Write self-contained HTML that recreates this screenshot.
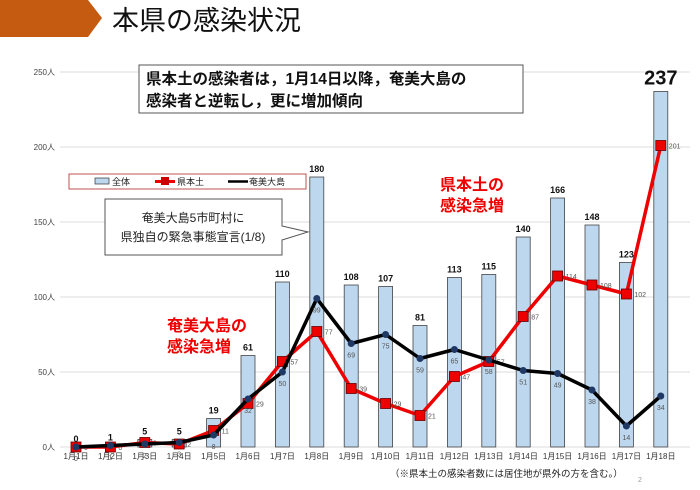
<!DOCTYPE html>
<html><head><meta charset="utf-8">
<style>
body{margin:0;background:#fff;}
svg text{font-family:"Liberation Sans","Noto Sans CJK JP",sans-serif;}
</style></head>
<body>
<svg id="chart" width="700" height="485" viewBox="0 0 700 485" xmlns="http://www.w3.org/2000/svg">
  <polygon points="0,0 88,0 102,18 88,37 0,37" fill="#c55a11"/>
  <text x="112" y="30" font-size="27" fill="#111">本県の感染状況</text>
  <g id="grid"></g>
  <g id="bars"></g>
  <g id="lines"></g>
  <rect x="69" y="174" width="237" height="15" fill="#fff" stroke="#c0504d" stroke-width="1"/>
  <rect x="95" y="178" width="14" height="6" fill="#bdd7ee" stroke="#333" stroke-width="0.7"/>
  <text x="112" y="185" font-size="9" fill="#222">全体</text>
  <line x1="155" y1="181.5" x2="175" y2="181.5" stroke="#e00" stroke-width="3"/>
  <rect x="161" y="177" width="8" height="8" fill="#c00"/>
  <text x="177" y="185" font-size="9" fill="#222">県本土</text>
  <line x1="228" y1="181.5" x2="248" y2="181.5" stroke="#000" stroke-width="2.5"/>
  <text x="249" y="185" font-size="9" fill="#222">奄美大島</text>
  <path d="M105,199 H282 V226 L308,232 L282,240 V255 H105 Z" fill="#fff" stroke="#555" stroke-width="1"/>
  <text x="193" y="222" font-size="12" fill="#222" text-anchor="middle">奄美大島5市町村に</text>
  <text x="193" y="241" font-size="12" fill="#222" text-anchor="middle">県独自の緊急事態宣言(1/8)</text>
  <rect x="139" y="65" width="384" height="48" fill="#fff" stroke="#555" stroke-width="1"/>
  <text x="146" y="84" font-size="15.5" font-weight="bold" fill="#111">県本土の感染者は，1月14日以降，奄美大島の</text>
  <text x="146" y="106" font-size="15.5" font-weight="bold" fill="#111">感染者と逆転し，更に増加傾向</text>
  <text x="440" y="190" font-size="16" font-weight="bold" fill="#e00">県本土の</text>
  <text x="440" y="211" font-size="16" font-weight="bold" fill="#e00">感染急増</text>
  <text x="167" y="331" font-size="16" font-weight="bold" fill="#e00">奄美大島の</text>
  <text x="167" y="352" font-size="16" font-weight="bold" fill="#e00">感染急増</text>
  <text x="390" y="477" font-size="9.5" fill="#222">（※県本土の感染者数には居住地が県外の方を含む。）</text>
  <text x="638" y="482" font-size="7" fill="#999">2</text>
</svg>
<script>
const categories=["1月1日","1月2日","1月3日","1月4日","1月5日","1月6日","1月7日","1月8日","1月9日","1月10日","1月11日","1月12日","1月13日","1月14日","1月15日","1月16日","1月17日","1月18日"];
const totalValues=[0,1,5,5,19,61,110,180,108,107,81,113,115,140,166,148,123,237];
const mainlandValues=[0,0,3,2,11,29,57,77,39,29,21,47,57,87,114,108,102,201];
const amamiValues=[0,1,2,3,8,32,50,99,69,75,59,65,58,51,49,38,14,34];
const yTicks=[0,50,100,150,200,250];
const yTickLabels=["0人","50人","100人","150人","200人","250人"];

const NS="http://www.w3.org/2000/svg";
const x0=76,dx=34.4,y0=447,ky=1.5;
const xs=i=>x0+i*dx;
const ys=v=>y0-v*ky;
function mk(tag,attrs,parent,txt){const e=document.createElementNS(NS,tag);for(const k in attrs)e.setAttribute(k,attrs[k]);if(txt!==undefined)e.textContent=txt;parent.appendChild(e);return e;}
const grid=document.getElementById('grid'),bars=document.getElementById('bars'),lines=document.getElementById('lines');
yTicks.forEach((t,i)=>{
  const l=mk('line',{x1:60,x2:690,y1:ys(t),y2:ys(t),stroke:'#ddd','stroke-width':1},grid);
  
  
  const tx=mk('text',{x:55,y:ys(t)+3,'font-size':8,fill:'#444','text-anchor':'end'},grid,yTickLabels[i]);
  
  
});
categories.forEach((c,i)=>{
  const tx=mk('text',{x:xs(i),y:y0+12,'font-size':8,fill:'#333','text-anchor':'middle'},grid,c);
  
  
  const v=totalValues[i];
  const r=mk('rect',{x:xs(i)-7,y:ys(v),width:14,height:v*ky,fill:'#bdd7ee',stroke:'#444','stroke-width':0.8},bars);
  
  
  const big=i===17;
  const bl=mk('text',{x:xs(i),y:ys(v)-(big?7:5),'font-size':big?20:9,'font-weight':'bold',fill:'#111','text-anchor':'middle'},bars,String(v));
  
  
});
function series(vals,color,w,name,marker){
  const p=mk('polyline',{points:vals.map((v,i)=>xs(i)+','+ys(v)).join(' '),fill:'none',stroke:color,'stroke-width':w,'stroke-linejoin':'round'},lines);
  
  
  vals.forEach((v,i)=>{
    let m;
    if(marker==='sq'){m=mk('rect',{x:xs(i)-5,y:ys(v)-5,width:10,height:10,fill:'#e00',stroke:'#600','stroke-width':0.8},lines);}
    else{m=mk('circle',{cx:xs(i),cy:ys(v),r:3.5,fill:'#1f3864'},lines);}
    
    
    const t=mk('text',{x:xs(i)+(marker==='sq'?8:0),y:ys(v)+(marker==='sq'?3:14),'font-size':7,fill:'#555','text-anchor':marker==='sq'?'start':'middle'},lines,String(v));
    
    
  });
}
series(mainlandValues,'#e00',3.5,'mainland','sq');
series(amamiValues,'#000',3.5,'amami','c');
</script>
</body></html>
